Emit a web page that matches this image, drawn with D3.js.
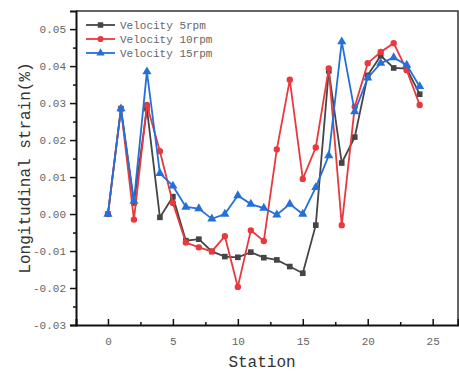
<!DOCTYPE html>
<html>
<head>
<meta charset="utf-8">
<script src="https://cdn.jsdelivr.net/npm/d3@7"></script>
<style>
  html, body { margin: 0; padding: 0; background: #fff; }
  svg { display: block; }
</style>
</head>
<body>
<div id="chart"></div>
<script>
const stations = d3.range(0, 25);
const v5rpm = [0, 0.0285, 0.003, 0.0285, -0.0009, 0.0047, -0.0072, -0.0068, -0.0101, -0.0115, -0.0117, -0.0103, -0.0118, -0.0124, -0.0142, -0.016, -0.003, 0.0387, 0.0138, 0.0208, 0.0375, 0.0428, 0.0395, 0.0393, 0.0324];
const v10rpm = [0, 0.0285, -0.0015, 0.0295, 0.017, 0.003, -0.0077, -0.009, -0.0101, -0.006, -0.0197, -0.0044, -0.0073, 0.0175, 0.0363, 0.0095, 0.018, 0.0394, -0.003, 0.029, 0.0408, 0.0438, 0.0462, 0.0389, 0.0295];
const v15rpm = [0, 0.0285, 0.0035, 0.0385, 0.011, 0.0076, 0.0019, 0.0015, -0.0013, 0, 0.005, 0.0027, 0.0016, -0.0002, 0.0027, 0, 0.0072, 0.0158, 0.0466, 0.0277, 0.0368, 0.0408, 0.0423, 0.0403, 0.0345];
const seriesNames = ['Velocity 5rpm', 'Velocity 10rpm', 'Velocity 15rpm'];
const seriesColors = ['#454545', '#e8393f', '#2470d8'];
const seriesShapes = [d3.symbolSquare, d3.symbolCircle, d3.symbolTriangle];
const xTicks = [0, 5, 10, 15, 20, 25];
const yTicks = [-0.03, -0.02, -0.01, 0, 0.01, 0.02, 0.03, 0.04, 0.05];

const width = 459, height = 372;
const margin = { top: 11, right: 1, bottom: 47, left: 76 };
const mono = '"Liberation Mono", "DejaVu Sans Mono", monospace';

const svg = d3.select('#chart').append('svg')
  .attr('width', width)
  .attr('height', height);

const x = d3.scaleLinear().domain([-2.46, 26.95]).range([margin.left, width - margin.right]);
const y = d3.scaleLinear().domain([-0.03, 0.0549]).range([height - margin.bottom, margin.top]);

// frame (top and right)
svg.append('path')
  .attr('d', `M${x.range()[0]},${y.range()[1]}H${x.range()[1]}V${y.range()[0]}`)
  .attr('fill', 'none')
  .attr('stroke', '#333')
  .attr('stroke-width', 1.5);

// x axis, ticks inward
const xAxis = svg.append('g')
  .attr('transform', `translate(0,${y.range()[0]})`)
  .call(d3.axisBottom(x).tickValues(xTicks).tickSize(-6).tickPadding(12).tickFormat(d3.format('d')));
svg.append('g')
  .attr('transform', `translate(0,${y.range()[0]})`)
  .call(d3.axisBottom(x).tickValues(d3.range(2.5, 27, 5)).tickSize(-3).tickFormat(''))
  .call(g => g.select('.domain').remove());

// y axis, ticks outward
const yAxis = svg.append('g')
  .attr('transform', `translate(${x.range()[0]},0)`)
  .call(d3.axisLeft(y).tickValues(yTicks).tickSize(6).tickPadding(4).tickFormat(d3.format('.2f')));
svg.append('g')
  .attr('transform', `translate(${x.range()[0]},0)`)
  .call(d3.axisLeft(y).tickValues(d3.range(-0.025, 0.055, 0.01)).tickSize(3).tickFormat(''))
  .call(g => g.select('.domain').remove());

svg.selectAll('.domain').attr('stroke', '#111').attr('stroke-width', 2);
svg.selectAll('.tick line').attr('stroke', '#111').attr('stroke-width', 1.5);
svg.selectAll('.tick text')
  .attr('fill', '#666')
  .style('font-family', mono)
  .style('font-size', '11px');
yAxis.selectAll('.tick text').text(d => d3.format('.2f')(d).replace('−', '-'));

// lines + markers
const line = d3.line().x((d, i) => x(stations[i])).y(d => y(d));
[v5rpm, v10rpm, v15rpm].forEach((vals, k) => {
  svg.append('path')
    .datum(vals)
    .attr('d', line)
    .attr('fill', 'none')
    .attr('stroke', seriesColors[k])
    .attr('stroke-width', 1.8);
  svg.append('g').selectAll('path')
    .data(vals)
    .join('path')
    .attr('transform', (d, i) => `translate(${x(stations[i])},${y(d)})`)
    .attr('d', d3.symbol().type(seriesShapes[k]).size(k === 2 ? 36 : 32))
    .attr('fill', seriesColors[k]);
});

// legend
const legend = svg.append('g');
seriesNames.forEach((name, k) => {
  const ly = 25 + k * 14;
  legend.append('line')
    .attr('x1', 86).attr('x2', 115).attr('y1', ly).attr('y2', ly)
    .attr('stroke', seriesColors[k]).attr('stroke-width', 1.8);
  legend.append('path')
    .attr('transform', `translate(100.5,${ly})`)
    .attr('d', d3.symbol().type(seriesShapes[k]).size(30))
    .attr('fill', seriesColors[k]);
  legend.append('text')
    .attr('x', 120).attr('y', ly + 4)
    .attr('fill', '#666')
    .style('font-family', mono)
    .style('font-size', '11px')
    .text(name);
});

// axis titles
svg.append('text')
  .attr('x', (x.range()[0] + 458) / 2 - 5)
  .attr('y', 367)
  .attr('text-anchor', 'middle')
  .attr('fill', '#333')
  .style('font-family', mono)
  .style('font-size', '16px')
  .text('Station');

svg.append('text')
  .attr('transform', `translate(30,${(y.range()[0] + y.range()[1]) / 2}) rotate(-90)`)
  .attr('text-anchor', 'middle')
  .attr('fill', '#333')
  .style('font-family', mono)
  .style('font-size', '16px')
  .text('Longitudinal strain(%)');
</script>
</body>
</html>
